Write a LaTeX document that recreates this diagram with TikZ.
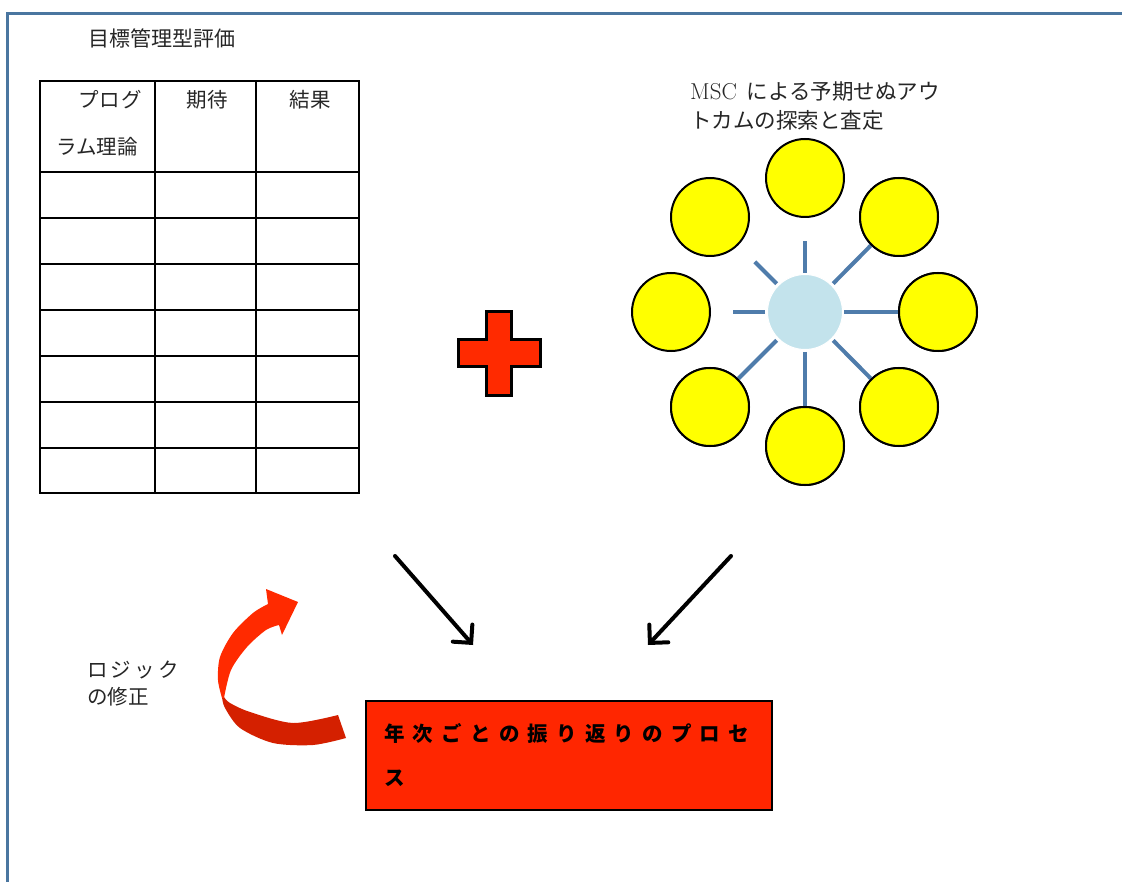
\documentclass[tikz,border=0pt]{standalone}
\usepackage{fontspec}
\newfontfamily\jp{Noto Sans CJK JP}
\usetikzlibrary{arrows.meta,calc}
\definecolor{frameblue}{HTML}{4A76A0}
\definecolor{spokeblue}{HTML}{4F7CAB}
\definecolor{hubblue}{HTML}{C3E3EC}
\definecolor{boxred}{HTML}{FF2600}
\definecolor{ribbonred}{HTML}{FF2A00}
\definecolor{ribbondark}{HTML}{D42000}
\definecolor{yel}{HTML}{FFFF00}
\newcommand\lsp{\hspace{8.2pt}}
\newcommand\lsq{\hspace{3.2pt}}
\tikzset{
  txt/.style={inner sep=0pt, anchor=west, font=\jp\fontsize{20.5}{24}\selectfont, text=black!85},
  tbl/.style={line width=2.4pt, draw=black},
  bubble/.style={circle, draw=black, line width=2pt, fill=yel, minimum size=78pt, inner sep=0pt},
  hubstyle/.style={circle, draw=white, line width=1pt, fill=hubblue, minimum size=75pt, inner sep=0pt},
  spoke/.style={draw=spokeblue, line width=4pt},
  bigarrow/.style={line width=4pt, line cap=round, -{Straight Barb[length=13pt,width=26pt,line cap=round]}},
}
\begin{document}
\begin{tikzpicture}[x=1pt,y=-1pt]
\useasboundingbox (0,0) rectangle (1122,882);
% frame
\draw[frameblue, line width=3pt] (7,882) -- (7,14) -- (1122,14);
% title
\node[txt, font=\jp\fontsize{21}{24}\selectfont] (title) at (88,38) {目標管理型評価};
% table
\draw[tbl] (40,81) rectangle (359,493);
\draw[tbl] (155,81) -- (155,493) (256,81) -- (256,493);
\foreach \yy in {172,218,264,310,356,402,448} {\draw[tbl] (40,\yy) -- (359,\yy);}
\node[txt, anchor=east] (h1a) at (142,100) {プ\hspace{1pt}ロ\hspace{1pt}グ};
\node[txt] (h1b) at (56,147) {ラム理論};
\node[txt, anchor=center] (h2) at (207,100) {期待};
\node[txt, anchor=center] (h3) at (310,100) {結果};
% plus
\draw[fill=ribbonred, line width=3.5pt, draw=black, line join=miter]
  (486.5,311.5) -- (511.5,311.5) -- (511.5,339.5) -- (540.5,339.5) -- (540.5,366.5) -- (511.5,366.5)
  -- (511.5,395.5) -- (486.5,395.5) -- (486.5,366.5) -- (458.5,366.5) -- (458.5,339.5) -- (486.5,339.5) -- cycle;
% MSC label
\node[txt, font=\jp\fontsize{21.5}{24}\selectfont] (msc1) at (690,92) {{\rmfamily\fontsize{23}{24}\selectfont MSC}\hspace{10pt}による予期せぬアウ};
\node[txt, font=\jp\fontsize{21.5}{24}\selectfont] (msc2) at (690,120) {トカムの探索と査定};
% hub and bubbles
\node[hubstyle] (hub) at (805,312) {};
\node[bubble] (cT)  at (805,178) {};
\node[bubble] (cTL) at (710,217) {};
\node[bubble] (cTR) at (899,217) {};
\node[bubble] (cL)  at (671,312) {};
\node[bubble] (cR)  at (938,312) {};
\node[bubble] (cBL) at (710,407) {};
\node[bubble] (cBR) at (899,407) {};
\node[bubble] (cB)  at (805,446) {};
% spokes
\draw[spoke] ($(hub.center)!39pt!(cT.center)$) -- ($(hub.center)!71pt!(cT.center)$);
\draw[spoke] ($(hub.center)!40pt!(cL.center)$) -- ($(hub.center)!72pt!(cL.center)$);
\draw[spoke] ($(hub.center)!40pt!(cTL.center)$) -- ($(hub.center)!71pt!(cTL.center)$);
\draw[spoke] ($(hub.center)!40pt!(cB.center)$) -- (cB);
\draw[spoke] ($(hub.center)!39pt!(cR.center)$) -- (cR);
\draw[spoke] ($(hub.center)!40pt!(cTR.center)$) -- (cTR);
\draw[spoke] ($(hub.center)!40pt!(cBL.center)$) -- (cBL);
\draw[spoke] ($(hub.center)!40pt!(cBR.center)$) -- (cBR);
\node[bubble] at (cB) {};
\node[bubble] at (cR) {};
\node[bubble] at (cTR) {};
\node[bubble] at (cBL) {};
\node[bubble] at (cBR) {};
% bottom box
\node[draw=black, line width=2pt, fill=boxred, minimum width=406pt, minimum height=109pt, inner sep=0pt, anchor=north west] (box) at (365,700) {};
\node[txt, font=\jp\bfseries\fontsize{20.5}{24}\selectfont, text=black] (boxt1) at (384,733) {年\lsp 次\lsp ご\lsp と\lsp の\lsp 振\lsp り\lsp 返\lsp り\lsp の\lsp プ\lsp ロ\lsp セ};
\node[txt, font=\jp\bfseries\fontsize{20.5}{24}\selectfont, text=black] (boxt2) at (384,778) {ス};
% arrows into the process
\coordinate (a1s) at (395,556);
\coordinate (a1e) at (473,645);
\coordinate (a2s) at (731,556);
\coordinate (a2e) at (648,645);
\draw[bigarrow] (a1s) -- (a1e);
\draw[bigarrow] (a2s) -- (a2e);
% logic label
\node[txt] (logic1) at (87,670) {ロ\lsq ジ\lsq ッ\lsq ク};
\node[txt] (logic2) at (87,697) {の修正};
% curved ribbon arrow
\fill[ribbondark] plot[smooth] coordinates {(222,697) (225,708) (240,728) (273,743) (313,745) (346,738)}
  -- (338,715) -- plot[smooth] coordinates {(338,715) (293,723) (250,712) (230,703) (224,697)} -- cycle;
\fill[ribbonred] plot[smooth] coordinates {(222,698) (218,680) (220,657) (233,633) (253,613) (268,604)}
  -- (266,589) -- (298,602) -- (282,635) -- (279,625)
  -- plot[smooth] coordinates {(279,625) (266,630) (247,647) (231,670) (224,698)} -- cycle;
\end{tikzpicture}
\end{document}
